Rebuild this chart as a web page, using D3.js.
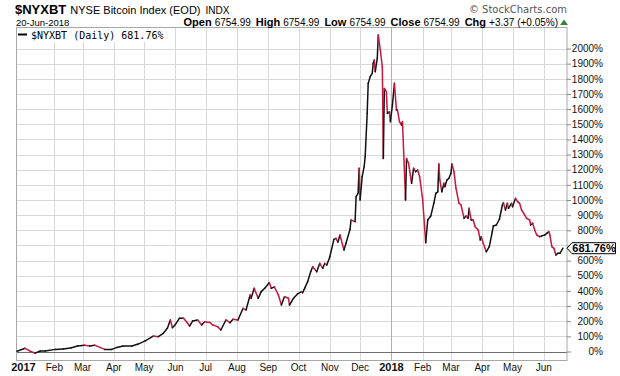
<!DOCTYPE html>
<html><head><meta charset="utf-8">
<script src="https://cdn.jsdelivr.net/npm/d3@7"></script>
<style>body{margin:0;background:#fff}svg{display:block;font-family:"Liberation Sans",Arial,sans-serif}</style>
</head><body><svg id="c" width="620" height="376"></svg>
<script>
const dates = ["2016-12-26","2017-01-03","2017-01-08","2017-01-13","2017-01-18","2017-01-23","2017-02-02","2017-02-10","2017-02-18","2017-02-24",
"2017-03-03","2017-03-08","2017-03-13","2017-03-18","2017-03-23","2017-03-30","2017-04-04","2017-04-10","2017-04-19","2017-04-25",
"2017-05-02","2017-05-10","2017-05-15","2017-05-20","2017-05-24","2017-05-27","2017-05-29","2017-06-01","2017-06-05","2017-06-09",
"2017-06-12","2017-06-15","2017-06-18","2017-06-23","2017-06-27","2017-06-30","2017-07-05","2017-07-08","2017-07-13","2017-07-16",
"2017-07-21","2017-07-25","2017-07-28","2017-08-02","2017-08-07","2017-08-10","2017-08-14","2017-08-15","2017-08-18","2017-08-22",
"2017-08-25","2017-08-29","2017-09-02","2017-09-04","2017-09-07","2017-09-11","2017-09-14","2017-09-17","2017-09-21","2017-09-22",
"2017-09-26","2017-09-30","2017-10-04","2017-10-05","2017-10-07","2017-10-10","2017-10-13","2017-10-15","2017-10-19","2017-10-22",
"2017-10-25","2017-10-27","2017-10-29","2017-11-01","2017-11-05","2017-11-07","2017-11-09","2017-11-11","2017-11-15","2017-11-17",
"2017-11-21","2017-11-22","2017-11-26","2017-11-27","2017-11-29","2017-11-30","2017-12-01","2017-12-03","2017-12-05","2017-12-06",
"2017-12-08","2017-12-09","2017-12-11","2017-12-13","2017-12-14","2017-12-15","2017-12-16","2017-12-18","2017-12-19","2017-12-21",
"2017-12-23","2017-12-24","2017-12-25","2017-12-27","2017-12-28","2017-12-30","2017-12-31","2018-01-02","2018-01-04","2018-01-06",
"2018-01-07","2018-01-09","2018-01-11","2018-01-12","2018-01-15","2018-01-16","2018-01-18","2018-01-21","2018-01-23","2018-01-25",
"2018-01-27","2018-01-29","2018-02-01","2018-02-04","2018-02-06","2018-02-09","2018-02-12","2018-02-14","2018-02-16","2018-02-17",
"2018-02-18","2018-02-20","2018-02-22","2018-02-23","2018-02-25","2018-02-27","2018-03-01","2018-03-02","2018-03-04","2018-03-06",
"2018-03-09","2018-03-11","2018-03-14","2018-03-16","2018-03-18","2018-03-19","2018-03-21","2018-03-23","2018-03-25","2018-03-28",
"2018-03-30","2018-03-31","2018-04-02","2018-04-05","2018-04-08","2018-04-11","2018-04-12","2018-04-15","2018-04-18","2018-04-21",
"2018-04-22","2018-04-24","2018-04-26","2018-04-27","2018-04-30","2018-05-01","2018-05-04","2018-05-06","2018-05-08","2018-05-10",
"2018-05-13","2018-05-15","2018-05-18","2018-05-19","2018-05-21","2018-05-23","2018-05-25","2018-05-28","2018-05-30","2018-06-02",
"2018-06-04","2018-06-06","2018-06-07","2018-06-09","2018-06-11","2018-06-13","2018-06-15","2018-06-17","2018-06-20"];
const values = [2,21,2,-11,3,3,14,16,25,36,
42,36,42,27,14,14,27,36,36,49,
70,102,98,120,153,208,157,179,220,220,
196,168,201,208,175,196,192,175,164,142,
208,190,213,208,285,274,373,351,417,351,
395,421,455,417,427,373,307,361,351,307,
351,380,395,388,417,461,527,560,527,582,
549,582,571,626,740,747,722,769,670,714,
806,868,857,1022,1044,1210,1000,1154,1220,1286,
1572,1770,1814,1836,1903,1924,1847,1935,2089,1990,
1879,1274,1736,1715,1572,1582,1517,1627,1770,1594,
1594,1517,1495,1517,1000,1274,1242,1110,1210,1187,
1198,1154,1000,718,868,894,978,1044,1054,1238,
1132,1054,1110,1088,1132,1143,1176,1238,1187,1077,
978,967,879,894,879,945,868,868,823,802,
736,758,714,658,692,791,829,835,873,967,
983,934,978,945,978,956,1011,989,978,934,
902,879,868,835,846,802,769,758,763,769,
780,791,769,692,681,637,648,648,681.76];
const yTicks = [0,100,200,300,400,500,600,700,800,900,1000,1100,1200,1300,1400,1500,1600,1700,1800,1900,2000];
const monthDates = ["2017-01-01","2017-02-01","2017-03-01","2017-04-01","2017-05-01","2017-06-01","2017-07-01","2017-08-01","2017-09-01","2017-10-01","2017-11-01","2017-12-01","2018-01-01","2018-02-01","2018-03-01","2018-04-01","2018-05-01","2018-06-01"];
const monthLabels = ["2017","Feb","Mar","Apr","May","Jun","Jul","Aug","Sep","Oct","Nov","Dec","2018","Feb","Mar","Apr","May","Jun"];
const lastLabel = "681.76%";

const parse = d3.timeParse("%Y-%m-%d");
const data = dates.map((d,i)=>({date:parse(d), v:values[i]}));
const svg = d3.select("#c");
const L=16.5, R=567, T=27, B=360;
const x = d3.scaleTime().domain([parse("2016-12-26"), parse("2018-06-24")]).range([17, 567]);
const y = d3.scaleLinear().domain([0,2000]).range([351.5, 48.5]);
const lastV = values[values.length-1];
const ly = y(lastV);

// horizontal grid
svg.append("g").selectAll("line").data(yTicks.filter(t=>t>0)).join("line")
  .attr("x1",L).attr("x2",R).attr("y1",d=>Math.round(y(d))+0.5).attr("y2",d=>Math.round(y(d))+0.5)
  .attr("stroke","#d8d8d8").attr("stroke-width",1);
// vertical grid
const months = monthDates.map(parse);
svg.append("g").selectAll("line").data(months.filter((d,i)=>i>0)).join("line")
  .attr("x1",d=>Math.round(x(d))+0.5).attr("x2",d=>Math.round(x(d))+0.5).attr("y1",T).attr("y2",B)
  .attr("stroke",d=>d.getMonth()===0?"#b0b0b0":"#d8d8d8").attr("stroke-width",1);
// zero line
svg.append("line").attr("x1",L).attr("x2",R).attr("y1",Math.round(y(0))+0.5).attr("y2",Math.round(y(0))+0.5)
  .attr("stroke","#6e6e6e").attr("stroke-width",1);
// frame
svg.append("rect").attr("x",L).attr("y",T+0.5).attr("width",R-L).attr("height",B-T)
  .attr("fill","none").attr("stroke","#a8a8a8").attr("stroke-width",1);

// right axis (label hidden where the last-value tag covers it)
const yAxis = d3.axisRight(y).tickValues(yTicks).tickSize(4).tickPadding(1).tickFormat(d=>d+"%");
const ga = svg.append("g").attr("transform",`translate(${R},0)`).call(yAxis);
ga.select(".domain").remove();
ga.selectAll(".tick line").attr("stroke","#888");
ga.selectAll(".tick text").attr("x",36).attr("text-anchor","end").attr("fill","#111")
  .style("font-family","'Liberation Sans',Arial,sans-serif").style("font-size","10px");
ga.selectAll(".tick").filter(d=>Math.abs(y(d)-ly)<11).select("text").remove();

// bottom month labels
svg.append("g").selectAll("text").data(months).join("text")
  .attr("x",(d,i)=> i===0 ? 23.5 : x(d)).attr("y",371).attr("text-anchor","middle")
  .attr("font-size",d=>d.getMonth()===0?"11px":"10px")
  .attr("font-weight",d=>d.getMonth()===0?"bold":"normal").attr("fill","#111")
  .text((d,i)=>monthLabels[i]);

// line segments colored by direction
const line = d3.line().x(d=>x(d.date)).y(d=>y(d.v));
const segs = d3.pairs(data);
svg.append("g").attr("fill","none").attr("stroke-width",1.5).attr("stroke-linejoin","round").attr("stroke-linecap","round")
  .selectAll("path").data(segs).join("path")
  .attr("d",d=>line(d)).attr("stroke",d=>d[1].v>=d[0].v?"#111":"#c8173f");

// legend
svg.append("rect").attr("x",L+0.5).attr("y",T+1).attr("width",154).attr("height",14).attr("fill","#fff");
svg.append("line").attr("x1",18).attr("x2",27).attr("y1",34.5).attr("y2",34.5).attr("stroke","#000").attr("stroke-width",2);
svg.append("text").attr("x",31).attr("y",38.5).attr("font-family","'DejaVu Sans Mono',monospace").attr("font-size","10px")
  .attr("fill","#000").text("$NYXBT (Daily) 681.76%");

// header
const h1 = svg.append("text").attr("x",15).attr("y",14).attr("fill","#000");
h1.append("tspan").attr("font-weight","bold").attr("font-size","13px").text("$NYXBT");
h1.append("tspan").attr("dx",4).attr("font-size","11px").text("NYSE Bitcoin Index (EOD)");
h1.append("tspan").attr("dx",5).attr("font-size","10px").text("INDX");
svg.append("text").attr("x",16).attr("y",25.5).attr("font-size","9.5px").attr("fill","#000").text("20-Jun-2018");
const h2 = svg.append("text").attr("x",558).attr("y",25.5).attr("text-anchor","end").attr("fill","#000").attr("font-size","10px");
[["Open","6754.99"],["High","6754.99"],["Low","6754.99"],["Close","6754.99"],["Chg","+3.37 (+0.05%)"]].forEach((p,i)=>{
  h2.append("tspan").attr("font-weight","bold").attr("font-size","11px").attr("dx",i?5:0).text(p[0]);
  h2.append("tspan").attr("dx",3).text(p[1]);
});
svg.append("path").attr("d","M560,25 L564,19.5 L568,25 Z").attr("fill","#2e8b2e");
svg.append("text").attr("x",567).attr("y",13).attr("text-anchor","end").attr("fill","#555")
  .attr("font-family","'DejaVu Sans',sans-serif").style("font-size","10px").text("© StockCharts.com");

// last value tag
svg.append("path").attr("d",`M567,${ly} L572,${ly-5.5} L615.5,${ly-5.5} L615.5,${ly+5.5} L572,${ly+5.5} Z`)
  .attr("fill","#fff").attr("stroke","#000").attr("stroke-width",1);
svg.append("text").attr("x",594).attr("y",ly+4).attr("text-anchor","middle").attr("font-weight","bold")
  .attr("font-size","11px").attr("fill","#000").text(lastLabel);
</script></body></html>
